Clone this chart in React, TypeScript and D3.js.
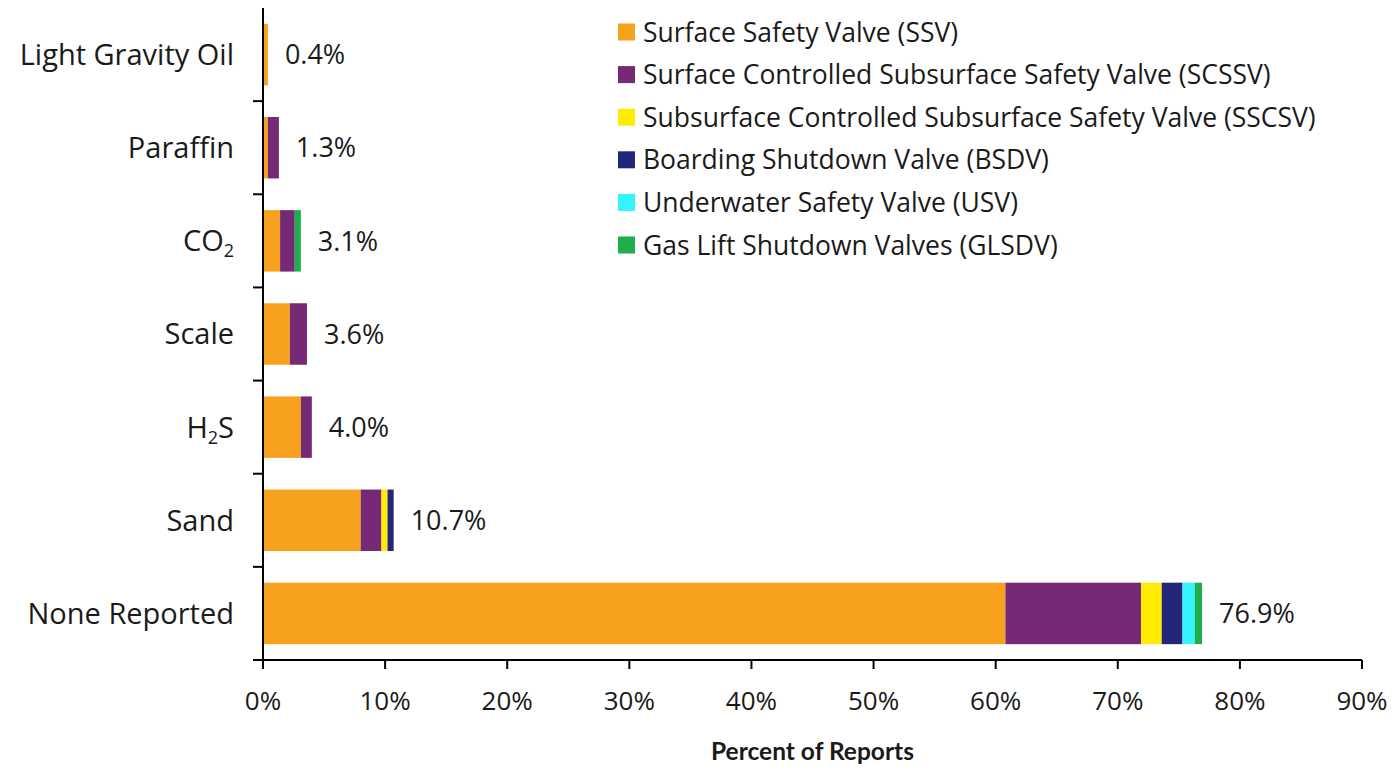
import React from "react";
import * as d3 from "d3";

const categories = ["Light Gravity Oil", "Paraffin", "CO2", "Scale", "H2S", "Sand", "None Reported"];
const seriesNames = [
  "Surface Safety Valve (SSV)",
  "Surface Controlled Subsurface Safety Valve (SCSSV)",
  "Subsurface Controlled Subsurface Safety Valve (SSCSV)",
  "Boarding Shutdown Valve (BSDV)",
  "Underwater Safety Valve (USV)",
  "Gas Lift Shutdown Valves (GLSDV)",
];
const seriesColors = ["#F7A11E", "#762A76", "#FFEC00", "#242679", "#33F4FF", "#1EAF4C"];
const ssv = [0.4, 0.4, 1.4, 2.2, 3.1, 8.0, 60.8];
const scssv = [0, 0.9, 1.2, 1.4, 0.9, 1.7, 11.1];
const sscsv = [0, 0, 0, 0, 0, 0.5, 1.7];
const bsdv = [0, 0, 0, 0, 0, 0.5, 1.7];
const usv = [0, 0, 0, 0, 0, 0, 1.0];
const glsdv = [0, 0, 0.5, 0, 0, 0, 0.6];
const totalLabels = ["0.4%", "1.3%", "3.1%", "3.6%", "4.0%", "10.7%", "76.9%"];
const xTicks = [0, 10, 20, 30, 40, 50, 60, 70, 80, 90];
const xTitle = "Percent of Reports";

const FONT = "'Open Sans', Lato, sans-serif";

function CatLabel({ name }: { name: string }) {
  if (name === "CO2")
    return (
      <>
        CO<tspan fontSize={18} dy={6}>2</tspan>
      </>
    );
  if (name === "H2S")
    return (
      <>
        H<tspan fontSize={18} dy={6}>2</tspan>
        <tspan dy={-6}>S</tspan>
      </>
    );
  return <>{name}</>;
}

export default function App() {
  const W = 1395, H = 772;
  const x0 = 263, x1 = 1362, yTop = 8, yBot = 660;
  const x = d3.scaleLinear().domain([0, 90]).range([x0, x1]);
  const y = d3.scaleBand<string>().domain(categories).range([yTop, yBot]).paddingInner(0.34).paddingOuter(0.17);
  const rows = categories.map((c, i) => ({
    cat: c,
    s0: ssv[i], s1: scssv[i], s2: sscsv[i], s3: bsdv[i], s4: usv[i], s5: glsdv[i],
  }));
  const keys = ["s0", "s1", "s2", "s3", "s4", "s5"];
  const stacked = d3.stack<any>().keys(keys)(rows);
  const step = y.step();
  const boundaries = categories.slice(0, -1).map((_, i) => yTop + step * (i + 1));

  return (
    <svg width={W} height={H} style={{ position: "absolute", left: 0, top: 0, background: "#fff" }} fontFamily={FONT}>
      <rect x={0} y={0} width={W} height={H} fill="#fff" />
      {stacked.map((layer, li) => (
        <g key={li} fill={seriesColors[li]}>
          {layer.map((d, i) =>
            d[1] - d[0] > 0 ? (
              <rect key={i} x={x(d[0])} y={y(categories[i])!} width={x(d[1]) - x(d[0])} height={y.bandwidth()} />
            ) : null
          )}
        </g>
      ))}
      {categories.map((c, i) => {
        const end = stacked[stacked.length - 1][i][1];
        return (
          <text key={c} x={x(end) + 17} y={y(c)! + y.bandwidth() / 2} dy="0.36em" fontSize={27} fill="#1a1a1a">
            {totalLabels[i]}
          </text>
        );
      })}
      {/* y axis */}
      <line x1={x0} x2={x0} y1={yTop} y2={yBot} stroke="#000" strokeWidth={2} />
      {boundaries.map((b, i) => (
        <line key={i} x1={x0 - 10} x2={x0} y1={b} y2={b} stroke="#000" strokeWidth={2} />
      ))}
      {categories.map((c) => (
        <text key={c} x={234} y={y(c)! + y.bandwidth() / 2} dy="0.36em" textAnchor="end" fontSize={29} fill="#1a1a1a">
          <CatLabel name={c} />
        </text>
      ))}
      {/* x axis */}
      <line x1={x0 - 10} x2={x1} y1={yBot} y2={yBot} stroke="#000" strokeWidth={2} />
      {xTicks.map((t) => (
        <g key={t}>
          <line x1={x(t)} x2={x(t)} y1={yBot} y2={yBot + 9} stroke="#000" strokeWidth={2} />
          <text x={x(t)} y={701} dy="0.36em" textAnchor="middle" fontSize={26} fill="#1a1a1a">
            {t}%
          </text>
        </g>
      ))}
      <text x={(x0 + x1) / 2} y={751} dy="0.36em" textAnchor="middle" fontSize={24.5} fontWeight="bold" fontFamily="Lato, sans-serif" fill="#1a1a1a">
        {xTitle}
      </text>
      {/* legend */}
      {seriesNames.map((s, i) => (
        <g key={s} transform={`translate(618, ${32 + i * 42.6})`}>
          <rect x={0} y={-8.5} width={17} height={17} fill={seriesColors[i]} />
          <text x={25} y={0} dy="0.36em" fontSize={26.5} fill="#1a1a1a">
            {s}
          </text>
        </g>
      ))}
    </svg>
  );
}
